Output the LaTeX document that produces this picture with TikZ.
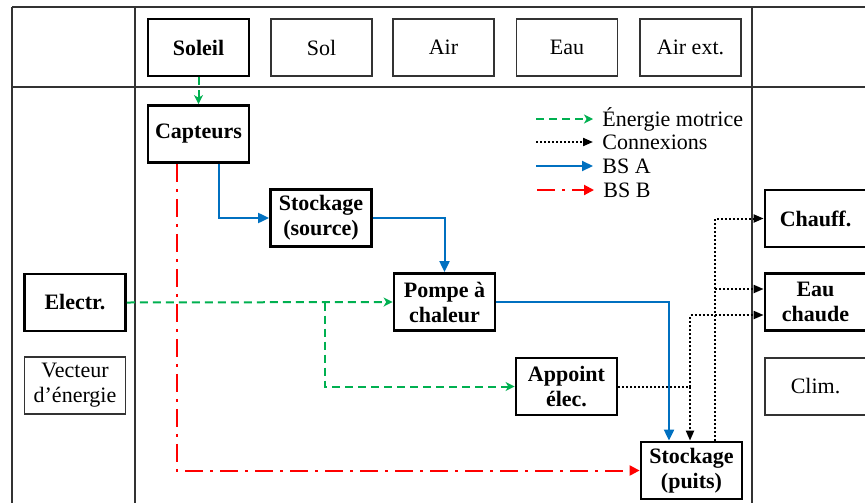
\documentclass[tikz,border=0pt]{standalone}
\usepackage{fontspec}
\setmainfont{Liberation Serif}
\usetikzlibrary{arrows.meta,calc}
\definecolor{emgreen}{RGB}{0,176,80}
\definecolor{bsblue}{RGB}{0,112,192}
\definecolor{bsred}{RGB}{255,0,0}
\begin{document}
\begin{tikzpicture}[x=0.5pt,y=-0.5pt,
  every node/.style={font=\fontsize{11}{12.5}\selectfont, align=center},
  boxbase/.style={rectangle, minimum width=50.5pt, minimum height=28.5pt, inner sep=1pt},
  thinbox/.style={boxbase, draw=black!80, line width=0.9pt},
  thickbox/.style={boxbase, draw=black, line width=1.4pt, font=\fontsize{11}{12.5}\selectfont\bfseries},
  grid/.style={draw=black!80, line width=0.8pt},
  em/.style={draw=emgreen, line width=1pt, dash pattern=on 4pt off 2.5pt, -{Stealth[length=4.5pt,width=4.5pt,inset=1.3pt]}},
  bsa/.style={draw=bsblue, line width=1pt, -{Triangle[length=5.5pt,width=5pt]}},
  bsb/.style={draw=bsred, line width=1pt, dash pattern=on 9pt off 3.5pt on 1.5pt off 3.5pt, -{Triangle[length=5pt,width=5pt]}},
  cx/.style={draw=black, line width=1pt, dash pattern=on 1pt off 1pt, -{Triangle[length=5pt,width=4pt]}},
  legtext/.style={anchor=west, inner sep=0pt}
]
\useasboundingbox (0,0) rectangle (865,503);
% table grid
\draw[grid] (12,7) -- (865,7);
\draw[grid] (12,87) -- (865,87);
\draw[grid] (12,7) -- (12,503);
\draw[grid] (135,7) -- (135,503);
\draw[grid] (752,7) -- (752,503);
% top row
\node[thickbox] (sol) at (198.5,47.5) {Soleil};
\node[thinbox] (so) at (321.5,47.5) {Sol};
\node[thinbox] (air) at (443.5,47.5) {Air};
\node[thinbox] (eau) at (567,47.5) {Eau};
\node[thinbox] (airx) at (690.5,47.5) {Air ext.};
% main nodes
\node[thickbox] (cap) at (198.5,134) {Capteurs};
\node[thickbox] (ss) at (321,218) {Stockage\\(source)};
\node[thickbox] (pac) at (444.5,302) {Pompe à\\chaleur};
\node[thickbox] (app) at (566.5,386.5) {Appoint\\élec.};
\node[thickbox] (sp) at (691.5,470.5) {Stockage\\(puits)};
\node[thickbox] (ch) at (815.5,218.5) {Chauff.};
\node[thickbox] (ec) at (815.5,302) {Eau\\chaude};
\node[thinbox] (cl) at (815.5,386.5) {Clim.};
\node[thickbox] (el) at (75,302.5) {Electr.};
\node[thinbox] (ve) at (75,385.5) {Vecteur\\d’énergie};
% connectors
\draw[em] (sol.south) -- (cap.north);
\draw[bsa] ($(cap.south)+(20.5,0)$) |- (ss.west);
\draw[bsa] (ss.east) -| (pac.north);
\draw[bsa] (pac.east) -| ($(sp.north)+(-22.5,0)$);
\draw[bsb] ($(cap.south)+(-21.5,0)$) |- (sp.west);
\draw[em] (el.east) -- (pac.west);
\coordinate (br) at (325,302.5);
\draw[em] (br) |- (app.west);
\draw[cx] (app.east) -| ($(sp.north)+(-1.5,0)$);
\draw[cx] ($(app.east -| sp.north)+(-1.5,0)$) |- ($(ec.west)+(0,13)$);
\draw[cx] ($(sp.north)+(23.5,0)$) |- (ch.west);
\draw[cx] ($(sp.north)+(23.5,0)$) |- ($(ec.west)+(0,-13)$);
% legend
\node[legtext] (t1) at (602,119) {Énergie motrice};
\node[legtext] (t2) at (602,142) {Connexions};
\node[legtext] (t3) at (602,166) {BS A};
\node[legtext] (t4) at (603,190) {BS B};
\draw[em] ($(t1.west)+(-66,0)$) -- ($(t1.west)+(-9,0)$);
\draw[cx] ($(t2.west)+(-66,0)$) -- ($(t2.west)+(-9,0)$);
\draw[bsa] ($(t3.west)+(-66,0)$) -- ($(t3.west)+(-9,0)$);
\draw[bsb] ($(t4.west)+(-66,0)$) -- ($(t4.west)+(-9,0)$);
\end{tikzpicture}
\end{document}
